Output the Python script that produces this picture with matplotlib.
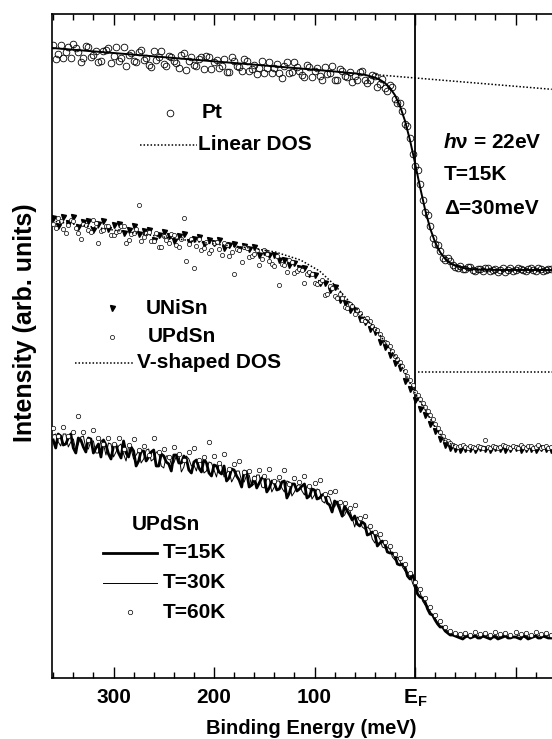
import matplotlib
matplotlib.use("Agg")
import matplotlib.pyplot as plt
from matplotlib.ticker import FixedLocator, MultipleLocator

# Photoemission spectra near E_F: Pt reference, UNiSn/UPdSn, UPdSn vs temperature

plt.rcParams['font.family'] = ['Liberation Sans', 'DejaVu Sans']
plt.rcParams['font.weight'] = 'bold'
plt.rcParams['mathtext.fontset'] = 'custom'
plt.rcParams['mathtext.rm'] = 'Liberation Sans:bold'
plt.rcParams['mathtext.bf'] = 'Liberation Sans:bold'
plt.rcParams['mathtext.it'] = 'Liberation Sans:italic:bold'

# Binding energy grid, 5 meV steps
energia = [360, 355, 350, 345, 340, 335, 330, 325, 320, 315,
           310, 305, 300, 295, 290, 285, 280, 275, 270, 265,
           260, 255, 250, 245, 240, 235, 230, 225, 220, 215,
           210, 205, 200, 195, 190, 185, 180, 175, 170, 165,
           160, 155, 150, 145, 140, 135, 130, 125, 120, 115,
           110, 105, 100, 95, 90, 85, 80, 75, 70, 65,
           60, 55, 50, 45, 40, 35, 30, 25, 20, 15,
           10, 5, 0, -5, -10, -15, -20, -25, -30, -35,
           -40, -45, -50, -55, -60, -65, -70, -75, -80, -85,
           -90, -95, -100, -105, -110, -115, -120, -125, -130, -135]

# Binding energy grid, 2.5 meV steps
energia_rapat = [360, 357.5, 355, 352.5, 350, 347.5, 345, 342.5, 340, 337.5,
                 335, 332.5, 330, 327.5, 325, 322.5, 320, 317.5, 315, 312.5,
                 310, 307.5, 305, 302.5, 300, 297.5, 295, 292.5, 290, 287.5,
                 285, 282.5, 280, 277.5, 275, 272.5, 270, 267.5, 265, 262.5,
                 260, 257.5, 255, 252.5, 250, 247.5, 245, 242.5, 240, 237.5,
                 235, 232.5, 230, 227.5, 225, 222.5, 220, 217.5, 215, 212.5,
                 210, 207.5, 205, 202.5, 200, 197.5, 195, 192.5, 190, 187.5,
                 185, 182.5, 180, 177.5, 175, 172.5, 170, 167.5, 165, 162.5,
                 160, 157.5, 155, 152.5, 150, 147.5, 145, 142.5, 140, 137.5,
                 135, 132.5, 130, 127.5, 125, 122.5, 120, 117.5, 115, 112.5,
                 110, 107.5, 105, 102.5, 100, 97.5, 95, 92.5, 90, 87.5,
                 85, 82.5, 80, 77.5, 75, 72.5, 70, 67.5, 65, 62.5,
                 60, 57.5, 55, 52.5, 50, 47.5, 45, 42.5, 40, 37.5,
                 35, 32.5, 30, 27.5, 25, 22.5, 20, 17.5, 15, 12.5,
                 10, 7.5, 5, 2.5, 0, -2.5, -5, -7.5, -10, -12.5,
                 -15, -17.5, -20, -22.5, -25, -27.5, -30, -32.5, -35, -37.5,
                 -40, -42.5, -45, -47.5, -50, -52.5, -55, -57.5, -60, -62.5,
                 -65, -67.5, -70, -72.5, -75, -77.5, -80, -82.5, -85, -87.5,
                 -90, -92.5, -95, -97.5, -100, -102.5, -105, -107.5, -110, -112.5,
                 -115, -117.5, -120, -122.5, -125, -127.5, -130, -132.5, -135]

# Pt reference spectrum (2.5 meV grid)
pt_int = [633, 619, 624, 633, 620, 626, 631, 620, 634, 630,
          626, 616, 620, 632, 631, 621, 623, 627, 616, 617,
          627, 628, 630, 615, 622, 631, 617, 620, 631, 612,
          623, 625, 617, 616, 626, 628, 618, 620, 613, 611,
          627, 618, 621, 627, 614, 612, 622, 621, 617, 615,
          610, 623, 625, 608, 617, 621, 613, 612, 619, 621,
          609, 622, 621, 609, 616, 618, 610, 612, 619, 606,
          606, 621, 617, 612, 611, 607, 619, 617, 607, 609,
          613, 604, 610, 617, 605, 610, 616, 605, 610, 614,
          605, 600, 612, 616, 605, 606, 616, 611, 607, 603,
          601, 613, 611, 601, 607, 610, 602, 598, 611, 604,
          605, 612, 598, 598, 609, 607, 602, 601, 606, 596,
          602, 598, 606, 607, 598, 595, 598, 603, 602, 591,
          594, 599, 590, 587, 593, 591, 579, 575, 575, 567,
          554, 552, 540, 524, 512, 508, 494, 478, 466, 463,
          452, 440, 434, 433, 427, 420, 418, 420, 417, 413,
          411, 410, 412, 409, 409, 411, 411, 408, 407, 409,
          409, 407, 410, 410, 407, 408, 409, 406, 408, 410,
          406, 408, 410, 407, 408, 410, 409, 408, 407, 409,
          410, 408, 407, 410, 409, 407, 408, 409, 409]

# Pt fit (linear DOS x Fermi function, broadened)
fit_e = [361, 300, 240, 180, 120, 80, 60, 50, 40, 35, 30, 25, 20, 15, 10,
         5, 0, -5, -10, -15, -20, -25, -30, -35, -40, -50, -60, -80, -136]
fit_int = [630, 625, 620, 615, 610, 606.5, 604.6, 603.2, 600.5, 598.3,
           595.1, 590.2, 582.9, 572.1, 557.2, 537.8, 515.0, 490.9, 468.5,
           449.8, 435.7, 425.8, 419.2, 414.9, 412.3, 409.6, 408.6, 408.1, 408]

# Linear DOS extrapolation
lin_e = [39, -136]
lin_int = [603.3, 588.7]

# UNiSn spectrum (5 meV grid)
unisn_int = [460, 452, 461, 455, 461, 451, 456, 457, 448, 454,
             457, 449, 453, 454, 445, 448, 452, 444, 447, 448,
             438, 443, 446, 442, 437, 442, 444, 436, 439, 441,
             434, 438, 435, 438, 430, 433, 434, 429, 432, 429,
             431, 423, 426, 423, 423, 418, 418, 413, 415, 410,
             410, 404, 403, 395, 395, 388, 391, 378, 375, 368,
             368, 359, 356, 349, 346, 336, 331, 323, 315, 310,
             297, 289, 278, 269, 263, 254, 247, 239, 233, 230,
             229, 228, 229, 229, 228, 230, 229, 228, 230, 229,
             228, 229, 230, 228, 229, 229, 228, 230, 229, 228]

# UPdSn spectrum at 15K (2.5 meV grid)
updsn_int = [454, 450, 460, 457, 449, 445, 453, 458, 457, 450,
             445, 439, 454, 453, 448, 446, 458, 455, 435, 447,
             448, 452, 452, 443, 443, 446, 447, 452, 452, 435,
             438, 444, 445, 449, 473, 437, 441, 445, 446, 437,
             437, 445, 431, 431, 442, 438, 435, 444, 443, 433,
             431, 439, 460, 417, 434, 439, 410, 432, 439, 428,
             430, 436, 425, 428, 435, 436, 429, 423, 435, 433,
             422, 426, 404, 429, 428, 416, 431, 430, 421, 422,
             424, 428, 413, 419, 428, 424, 417, 414, 412, 422,
             393, 414, 413, 406, 418, 416, 405, 407, 409, 408,
             395, 404, 406, 404, 395, 394, 396, 398, 383, 384,
             392, 390, 382, 380, 384, 380, 371, 370, 374, 372,
             364, 368, 365, 358, 357, 360, 357, 352, 349, 348,
             344, 340, 336, 335, 332, 327, 322, 319, 316, 312,
             307, 302, 298, 293, 286, 283, 279, 275, 271, 267,
             263, 259, 254, 250, 246, 242, 238, 237, 235, 233,
             232, 231, 232, 233, 231, 230, 232, 231, 230, 232,
             231, 230, 238, 231, 230, 232, 231, 230, 231, 233,
             232, 231, 230, 232, 231, 230, 233, 231, 230, 232,
             232, 230, 231, 233, 230, 231, 232, 230, 231]

# V-shaped DOS model
v_e = [361, 300, 250, 200, 164, 139, 114, 95, 80, 65, 40, 15, 0, -10, -20, -30, -40]
v_int = [457, 448, 441, 434, 430, 426, 418, 407, 393, 376, 350, 315, 285, 268, 251, 237, 232]
vflat_e = [-3, -136]
vflat_int = [306, 306]

# UPdSn at T=15K and T=30K (2.5 meV grid)
t15_int = [238, 230, 244, 242, 233, 234, 240, 244, 230, 225,
           240, 238, 231, 226, 240, 239, 225, 230, 234, 221,
           238, 233, 224, 219, 232, 233, 225, 220, 237, 225,
           221, 231, 227, 212, 217, 227, 227, 217, 221, 226,
           228, 212, 212, 224, 222, 216, 214, 207, 223, 223,
           215, 215, 222, 219, 208, 205, 216, 218, 210, 206,
           219, 215, 205, 202, 213, 212, 206, 204, 212, 197,
           200, 209, 208, 202, 198, 191, 207, 206, 191, 193,
           201, 190, 195, 200, 201, 186, 190, 197, 195, 188,
           189, 196, 197, 180, 185, 194, 194, 187, 189, 192,
           194, 180, 182, 189, 188, 179, 180, 183, 184, 175,
           173, 166, 177, 175, 169, 162, 172, 167, 163, 158,
           162, 154, 152, 156, 154, 143, 144, 146, 144, 132,
           135, 137, 134, 126, 125, 125, 122, 114, 113, 114,
           111, 102, 99, 103, 96, 84, 81, 80, 76, 69,
           64, 63, 58, 54, 51, 51, 47, 45, 43, 43,
           42, 41, 40, 39, 41, 42, 40, 41, 42, 40,
           40, 42, 41, 40, 39, 41, 41, 39, 40, 41,
           42, 40, 40, 41, 41, 40, 39, 42, 41, 39,
           40, 41, 42, 40, 40, 42, 41, 40, 40]

t30_int = [243, 244, 236, 232, 244, 244, 231, 236, 239, 228,
           234, 241, 242, 230, 229, 237, 237, 225, 225, 238,
           234, 223, 235, 234, 221, 226, 232, 234, 224, 217,
           232, 229, 219, 223, 227, 215, 219, 228, 229, 217,
           219, 226, 225, 212, 210, 222, 222, 214, 215, 222,
           224, 206, 211, 222, 219, 212, 213, 207, 219, 216,
           205, 207, 216, 215, 208, 201, 214, 213, 201, 205,
           208, 196, 201, 207, 207, 197, 196, 203, 203, 192,
           194, 203, 203, 191, 190, 199, 199, 186, 191, 197,
           197, 190, 186, 197, 196, 182, 186, 192, 194, 187,
           183, 192, 191, 179, 183, 189, 188, 177, 175, 182,
           181, 173, 171, 177, 174, 161, 163, 169, 168, 160,
           151, 161, 158, 151, 149, 151, 149, 139, 135, 143,
           139, 131, 130, 131, 129, 121, 118, 121, 117, 111,
           107, 106, 104, 95, 89, 91, 86, 77, 73, 72,
           67, 62, 60, 55, 52, 51, 49, 47, 45, 44,
           44, 43, 42, 42, 43, 41, 41, 43, 42, 42,
           43, 41, 41, 43, 42, 42, 43, 41, 41, 43,
           42, 42, 43, 41, 41, 43, 42, 42, 43, 41,
           41, 43, 42, 42, 43, 41, 41, 43, 42]

# UPdSn at T=60K (5 meV grid)
t60_int = [250, 242, 251, 242, 246, 262, 246, 238, 248, 240,
           234, 240, 234, 240, 229, 233, 239, 228, 232, 223,
           240, 226, 229, 221, 231, 224, 218, 226, 230, 218,
           221, 236, 222, 215, 224, 209, 214, 217, 206, 207,
           200, 208, 202, 209, 197, 201, 208, 194, 200, 196,
           202, 192, 195, 198, 184, 186, 187, 176, 175, 170,
           173, 160, 162, 152, 146, 144, 136, 132, 124, 120,
           114, 105, 96, 89, 80, 71, 63, 57, 51, 47,
           45, 44, 45, 43, 46, 44, 45, 43, 46, 44,
           45, 43, 46, 44, 45, 43, 46, 44, 45, 43]

fig = plt.figure(figsize=(5.52, 7.39), dpi=100)
ax = fig.add_axes([52 / 552, 1 - 678 / 739, 1 - 52 / 552, 664 / 739])

titik = (0, (1, 1.3))

# Pt
ax.plot(fit_e, fit_int, color='black', lw=1.4, zorder=3)
ax.plot(lin_e, lin_int, color='black', lw=1.1, ls=titik, zorder=3)
ax.plot(energia_rapat, pt_int, ls='none', marker='o', ms=4.8, mfc='none',
        mec='black', mew=0.6, zorder=4)

# UNiSn / UPdSn
ax.plot(energia, unisn_int, ls='none', marker='v', ms=3.6, color='black', zorder=4)
ax.plot(energia_rapat, updsn_int, ls='none', marker='o', ms=3.0, mfc='white',
        mec='black', mew=0.5, zorder=5)
ax.plot(v_e, v_int, color='black', lw=1.1, ls=titik, zorder=6)
ax.plot(vflat_e, vflat_int, color='black', lw=1.1, ls=titik, zorder=6)

# UPdSn temperatures
ax.plot(energia_rapat, t15_int, color='black', lw=2.0, zorder=3)
ax.plot(energia_rapat, t30_int, color='black', lw=0.7, zorder=3)
ax.plot(energia, t60_int, ls='none', marker='o', ms=3.2, mfc='white',
        mec='black', mew=0.5, zorder=5)

ax.axvline(0, color='black', lw=1.3, zorder=2)

# Legend entries drawn by hand
fs = 15
ax.plot([243.8], [565], ls='none', marker='o', ms=4.8, mfc='none', mec='black', mew=0.6)
ax.text(212, 565, 'Pt', fontsize=fs, va='center', ha='left')
ax.plot([273.6, 216.9], [533, 533], color='black', lw=1.1, ls=titik)
ax.text(216, 533, 'Linear DOS', fontsize=fs, va='center', ha='left')

ax.text(-28, 535, r'$h$ν = 22eV', fontsize=fs, va='center', ha='left')
ax.text(-29, 503, 'T=15K', fontsize=fs, va='center', ha='left')
ax.text(-29, 470, 'Δ=30meV', fontsize=fs, va='center', ha='left')

ax.plot([301.5], [370], ls='none', marker='v', ms=3.6, color='black')
ax.text(268, 370, 'UNiSn', fontsize=fs, va='center', ha='left')
ax.plot([301.5], [341], ls='none', marker='o', ms=3.0, mfc='white', mec='black', mew=0.5)
ax.text(266, 341, 'UPdSn', fontsize=fs, va='center', ha='left')
ax.plot([338, 280.6], [315, 315], color='black', lw=1.1, ls=titik)
ax.text(277, 315, 'V-shaped DOS', fontsize=fs, va='center', ha='left')

ax.text(247.8, 153, 'UPdSn', fontsize=fs, va='center', ha='center')
ax.plot([310.4, 256.7], [125, 125], color='black', lw=2.0)
ax.text(250.7, 125, 'T=15K', fontsize=fs, va='center', ha='left')
ax.plot([310.4, 256.7], [95, 95], color='black', lw=0.7)
ax.text(250.7, 95, 'T=30K', fontsize=fs, va='center', ha='left')
ax.plot([283.6], [66], ls='none', marker='o', ms=3.2, mfc='white', mec='black', mew=0.5)
ax.text(250.7, 66, 'T=60K', fontsize=fs, va='center', ha='left')

ax.set_xlim(361.2, -136.3)
ax.set_ylim(0, 664)
ax.xaxis.set_major_locator(FixedLocator([300, 200, 100, 0, -100]))
ax.xaxis.set_minor_locator(MultipleLocator(20))
ax.set_xticklabels(['300', '200', '100', r'$\mathbf{E_F}$', ''])
ax.tick_params(axis='x', which='both', direction='in', top=True, bottom=True,
               width=1.0, labelsize=15, pad=7)
ax.tick_params(axis='x', which='major', length=8)
ax.tick_params(axis='x', which='minor', length=4.3)
ax.set_yticks([])
for nama in ['left', 'top', 'bottom']:
    ax.spines[nama].set_linewidth(1.2)
ax.spines['right'].set_visible(False)

fig.text(311 / 552, 1 - 734 / 739, 'Binding Energy (meV)', fontsize=14.5,
         ha='center', va='baseline')
fig.text(25 / 552, 1 - 323 / 739, 'Intensity (arb. units)', fontsize=18,
         rotation=90, ha='center', va='center')

fig.savefig('out.png', dpi=100)
